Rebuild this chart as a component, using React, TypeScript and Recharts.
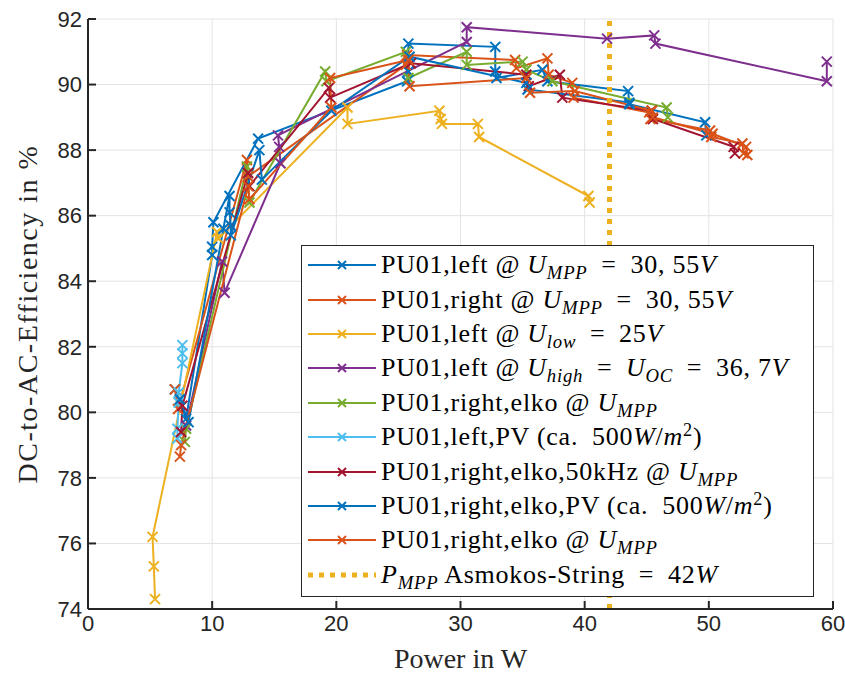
import { CartesianGrid, Line, LineChart, XAxis, YAxis } from 'recharts'
import type { ReactNode } from 'react'

const BLUE = '#0072BD'
const ORANGE = '#D95319'
const YELLOW = '#EDB120'
const PURPLE = '#7E2F8E'
const GREEN = '#77AC30'
const LIGHT_BLUE = '#4DBEEE'
const DARK_RED = '#A2142F'
const INK = '#262626'

type Pt = [number, number]

// [power W, efficiency %]
const leftMpp: Pt[] = [
  [7.0, 80.7], [7.9, 79.8], [10.0, 84.8], [10.0, 85.05], [10.1, 85.8], [13.7, 88.35],
  [25.7, 90.1], [25.8, 90.4], [25.8, 91.25], [32.8, 91.15], [32.8, 90.4], [32.9, 90.2],
  [36.6, 90.45], [37.0, 90.1], [43.5, 89.8], [43.6, 89.4], [49.7, 88.85], [49.8, 88.45],
]
const rightMpp: Pt[] = [
  [7.0, 80.7], [7.25, 80.1], [12.8, 87.7], [12.9, 87.2], [25.6, 90.6], [25.7, 90.9],
  [34.4, 90.75], [34.5, 90.5], [37.0, 90.8], [37.1, 90.3], [39.0, 90.05], [39.1, 89.6],
  [45.2, 89.15], [45.3, 88.95], [50.1, 88.6], [50.2, 88.4], [52.7, 88.2], [52.8, 87.9],
]
const leftLow: Pt[] = [
  [5.4, 74.3], [5.3, 75.3], [5.2, 76.2], [10.4, 85.5], [10.5, 85.3], [20.9, 89.3],
  [20.9, 88.8], [28.3, 89.2], [28.4, 88.95], [28.5, 88.8], [31.4, 88.8], [31.5, 88.4],
  [40.3, 86.6], [40.4, 86.4],
]
const leftHigh: Pt[] = [
  [7.9, 79.6], [10.8, 84.6], [11.0, 83.65], [15.5, 87.6], [15.4, 88.1], [15.3, 88.45],
  [30.5, 91.3], [30.5, 91.75], [41.8, 91.4], [45.6, 91.5], [45.7, 91.25], [59.5, 90.1],
  [59.5, 90.7],
]
const rightElko: Pt[] = [
  [7.8, 79.1], [7.9, 79.5], [12.8, 87.5], [13.0, 86.4], [19.1, 90.4], [19.2, 90.1],
  [25.6, 91.0], [25.8, 90.2], [30.5, 91.0], [30.5, 90.6], [35.0, 90.7], [35.3, 90.45],
  [37.4, 90.1], [46.6, 89.3], [46.7, 89.0],
]
const leftPv: Pt[] = [
  [7.2, 79.2], [7.2, 79.5], [7.3, 80.3], [7.3, 80.6], [7.6, 81.5], [7.6, 81.8], [7.6, 82.05],
]
const rightElko50k: Pt[] = [
  [7.5, 79.4], [7.6, 80.2], [12.9, 87.3], [13.0, 86.9], [19.4, 89.9], [19.5, 89.6],
  [26.0, 90.65], [35.3, 90.3], [35.5, 89.95], [38.0, 90.3], [38.2, 89.6], [45.4, 89.2],
  [45.5, 88.95], [52.0, 88.1], [52.1, 87.9],
]
const rightElkoPv: Pt[] = [
  [7.4, 80.4], [8.1, 79.7], [10.9, 85.6], [11.4, 86.6], [11.4, 86.1], [11.5, 85.7],
  [11.5, 85.4], [13.8, 88.0], [14.0, 87.1], [19.6, 89.2], [25.9, 90.85], [35.3, 90.05],
  [35.4, 89.85], [43.6, 89.45],
]
const rightElko2: Pt[] = [
  [7.4, 78.65], [7.5, 79.0], [12.9, 86.9], [13.0, 86.5], [19.6, 89.3], [19.5, 90.2],
  [25.8, 90.75], [25.9, 89.95], [35.3, 90.2], [35.6, 89.75], [39.2, 89.8], [45.4, 89.2],
  [45.5, 89.0], [50.3, 88.5], [53.0, 88.1], [53.1, 87.85],
]
const pMppString: Pt[] = [[42, 74], [42, 92]]

const xTicks = [0, 10, 20, 30, 40, 50, 60]
const yTicks = [74, 76, 78, 80, 82, 84, 86, 88, 90, 92]

const M = ({ v, s }: { v: string; s?: string }) => (
  <>
    <i>{v}</i>
    {s && <sub style={{ fontSize: '0.72em', verticalAlign: '-0.3em', lineHeight: 0 }}><i>{s}</i></sub>}
  </>
)
const sq = <sup style={{ fontSize: '0.7em', verticalAlign: '0.5em', lineHeight: 0 }}>2</sup>
const EQ = '\u2002=\u2002'

const series: { pts: Pt[]; color: string; label: ReactNode }[] = [
  { pts: leftMpp, color: BLUE, label: <>PU01,left @ <M v="U" s="MPP" />{EQ}30, 55<i>V</i></> },
  { pts: rightMpp, color: ORANGE, label: <>PU01,right @ <M v="U" s="MPP" />{EQ}30, 55<i>V</i></> },
  { pts: leftLow, color: YELLOW, label: <>PU01,left @ <M v="U" s="low" />{EQ}25<i>V</i></> },
  { pts: leftHigh, color: PURPLE, label: <>PU01,left @ <M v="U" s="high" />{EQ}<M v="U" s="OC" />{EQ}36, 7<i>V</i></> },
  { pts: rightElko, color: GREEN, label: <>PU01,right,elko @ <M v="U" s="MPP" /></> },
  { pts: leftPv, color: LIGHT_BLUE, label: <>PU01,left,PV (ca.{'\u2002'}500<i>W</i>/<i>m</i>{sq})</> },
  { pts: rightElko50k, color: DARK_RED, label: <>PU01,right,elko,50kHz @ <M v="U" s="MPP" /></> },
  { pts: rightElkoPv, color: BLUE, label: <>PU01,right,elko,PV (ca.{'\u2002'}500<i>W</i>/<i>m</i>{sq})</> },
  { pts: rightElko2, color: ORANGE, label: <>PU01,right,elko @ <M v="U" s="MPP" /></> },
]

const cross = (color: string, r = 5) => (props: any) => {
  const { cx, cy, index } = props
  if (cx == null || cy == null) return <g key={index} />
  return (
    <path
      key={index}
      d={`M${cx - r},${cy - r}L${cx + r},${cy + r}M${cx - r},${cy + r}L${cx + r},${cy - r}`}
      stroke={color}
      strokeWidth={2}
      fill="none"
    />
  )
}

const toRows = (pts: Pt[]) => pts.map(([p, e]) => ({ p, e }))

const tickStyle = { fontSize: 22, fill: INK, fontFamily: "'Liberation Sans Narrow', 'Liberation Sans', sans-serif" }
const titleStyle = { fontSize: 28, fill: INK, fontFamily: "'Liberation Serif', serif" }

function LegendBox() {
  const row = { display: 'flex', alignItems: 'center', height: 34.4, whiteSpace: 'nowrap' as const }
  return (
    <div style={{
      position: 'absolute', left: 301, top: 245, width: 511, height: 348, background: '#fff',
      border: `1px solid ${INK}`, fontFamily: "'Liberation Serif', serif", fontSize: 26, letterSpacing: 0.75,
      color: '#000', paddingTop: 2, overflow: 'hidden',
    }}>
      {series.map((s, i) => (
        <div key={i} style={row}>
          <svg width={79} height={20} style={{ flex: 'none' }}>
            <line x1={6} y1={10} x2={74} y2={10} stroke={s.color} strokeWidth={2} />
            <path d="M36,6L44,14M36,14L44,6" stroke={s.color} strokeWidth={2} />
          </svg>
          <span>{s.label}</span>
        </div>
      ))}
      <div style={row}>
        <svg width={79} height={20} style={{ flex: 'none' }}>
          <line x1={6} y1={10} x2={74} y2={10} stroke={YELLOW} strokeWidth={5} strokeDasharray="5 6" />
        </svg>
        <span><M v="P" s="MPP" /> Asmokos-String{EQ}42<i>W</i></span>
      </div>
    </div>
  )
}

export default function App() {
  return (
    <div style={{ position: 'absolute', left: 0, top: 0, width: 845, height: 674, background: '#fff' }}>
      <LineChart width={845} height={674} margin={{ top: 19, right: 12, left: 0, bottom: 0 }}>
        <CartesianGrid stroke="#e3e3e3" strokeWidth={1} />
        <XAxis
          type="number"
          dataKey="p"
          domain={[0, 60]}
          ticks={xTicks}
          allowDataOverflow
          height={65}
          tick={tickStyle}
          tickSize={-8}
          tickMargin={14}
          stroke={INK}
          strokeWidth={2}
          label={{ value: 'Power in W', position: 'center', dy: 17, style: titleStyle }}
        />
        <YAxis
          type="number"
          dataKey="e"
          domain={[74, 92]}
          ticks={yTicks}
          allowDataOverflow
          width={88}
          tick={tickStyle}
          tickSize={-8}
          tickMargin={14}
          stroke={INK}
          strokeWidth={2}
          label={{ value: 'DC-to-AC-Efficiency in %', angle: -90, position: 'center', dx: -17, style: { ...titleStyle, letterSpacing: 1.5 } }}
        />
        {series.map((s, i) => (
          <Line
            key={i}
            data={toRows(s.pts)}
            dataKey="e"
            type="linear"
            stroke={s.color}
            strokeWidth={2}
            dot={cross(s.color)}
            activeDot={false}
            isAnimationActive={false}
          />
        ))}
        <Line
          data={toRows(pMppString)}
          dataKey="e"
          type="linear"
          stroke={YELLOW}
          strokeWidth={5}
          strokeDasharray="5 6"
          dot={false}
          activeDot={false}
          isAnimationActive={false}
        />
      </LineChart>
      <LegendBox />
    </div>
  )
}
